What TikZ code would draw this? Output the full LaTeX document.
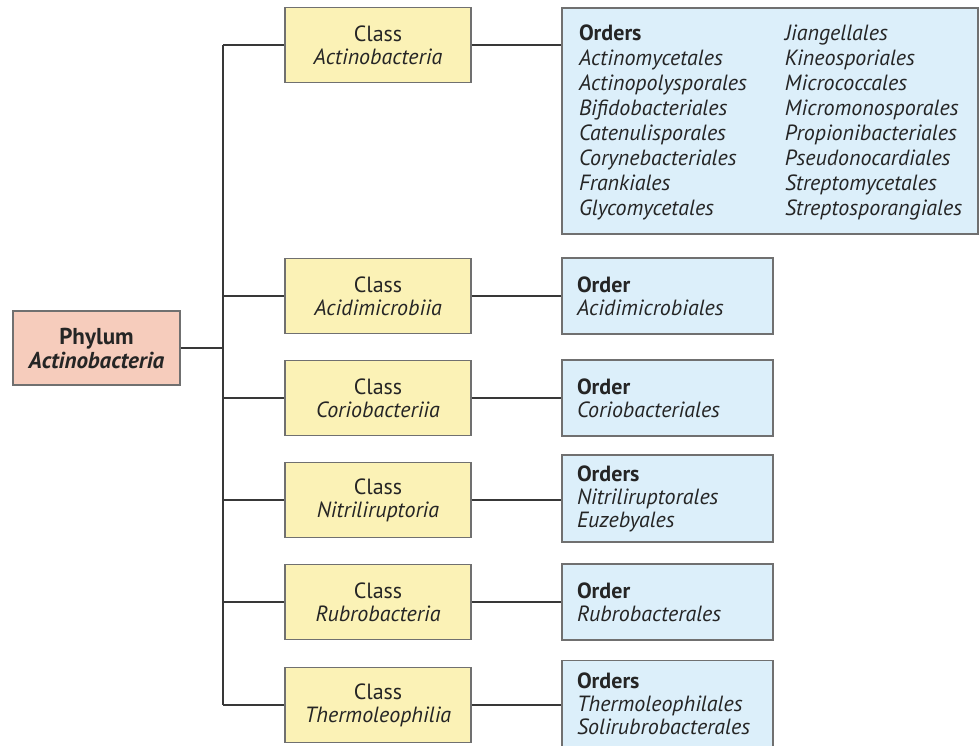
\documentclass[tikz,border=0pt]{standalone}
\usepackage{fontspec}
\setmainfont{PT Sans}
\usepackage{array}
\definecolor{phfill}{HTML}{F6CCBC}
\definecolor{clfill}{HTML}{FBF2B6}
\definecolor{orfill}{HTML}{DCEFFA}
\definecolor{bord}{HTML}{707070}
\definecolor{conn}{HTML}{383838}
\definecolor{txt}{HTML}{252525}
\tikzset{
  box/.style={draw=bord, line width=1.2pt, inner sep=0pt, text=txt,
    font=\fontsize{22}{23}\selectfont},
  phbox/.style={box, fill=phfill, minimum width=167pt, minimum height=74pt, align=center,
    font=\fontsize{23}{24}\selectfont},
  clbox/.style={box, fill=clfill, minimum width=186pt, minimum height=75pt, align=center},
  orbox/.style={box, fill=orfill, minimum width=211pt, text width=181pt, align=left},
  link/.style={draw=conn, line width=2.3pt},
}
\begin{document}
\begin{tikzpicture}[x=1pt,y=-1pt]
\useasboundingbox (0,0) rectangle (979,746);
\node[phbox] (ph) at (96.5,348) {\textbf{Phylum}\\\textbf{\itshape Actinobacteria}};
\node[clbox] (c1) at (378,45) {Class\\\itshape Actinobacteria};
\node[clbox] (c2) at (378,296) {Class\\\itshape Acidimicrobiia};
\node[clbox] (c3) at (378,398) {Class\\\itshape Coriobacteriia};
\node[clbox] (c4) at (378,500) {Class\\\itshape Nitriliruptoria};
\node[clbox] (c5) at (378,602) {Class\\\itshape Rubrobacteria};
\node[clbox] (c6) at (378,705) {Class\\\itshape Thermoleophilia};
\node[box, fill=orfill, minimum width=416pt, minimum height=226pt, text width=382pt, align=left,
  font=\fontsize{22}{25}\selectfont] (o1) at (770,121)
  {\raisebox{0pt}[\dimexpr\height+5pt\relax][\depth]{\begin{tabular}{@{}p{206pt}@{}l@{}}
   \textbf{Orders} & \itshape Jiangellales\\
   \itshape Actinomycetales & \itshape Kineosporiales\\
   \itshape Actinopolysporales & \itshape Micrococcales\\
   \itshape Bifidobacteriales & \itshape Micromonosporales\\
   \itshape Catenulisporales & \itshape Propionibacteriales\\
   \itshape Corynebacteriales & \itshape Pseudonocardiales\\
   \itshape Frankiales & \itshape Streptomycetales\\
   \itshape Glycomycetales & \itshape Streptosporangiales
  \end{tabular}}};
\node[orbox, minimum height=76pt] (o2) at (667.5,296) {\textbf{Order}\\\itshape Acidimicrobiales};
\node[orbox, minimum height=76pt] (o3) at (667.5,398) {\textbf{Order}\\\itshape Coriobacteriales};
\node[orbox, minimum height=87pt] (o4) at (667.5,498.5) {\textbf{Orders}\\\itshape Nitriliruptorales\\\itshape Euzebyales};
\node[orbox, minimum height=76pt] (o5) at (667.5,602) {\textbf{Order}\\\itshape Rubrobacterales};
\node[orbox, minimum height=87pt] (o6) at (667.5,704) {\textbf{Orders}\\\itshape Thermoleophilales\\\itshape Solirubrobacterales};
\coordinate (top) at (223,45);
\coordinate (bot) at (223,705);
\draw[link] (top) -- (bot);
\draw[link] (ph.east) -- (ph.east -| top);
\foreach \i in {1,...,6}{
  \draw[link] (c\i.west -| top) -- (c\i.west);
  \draw[link] (c\i.east) -- (c\i.east -| o\i.west);
}
\end{tikzpicture}
\end{document}
